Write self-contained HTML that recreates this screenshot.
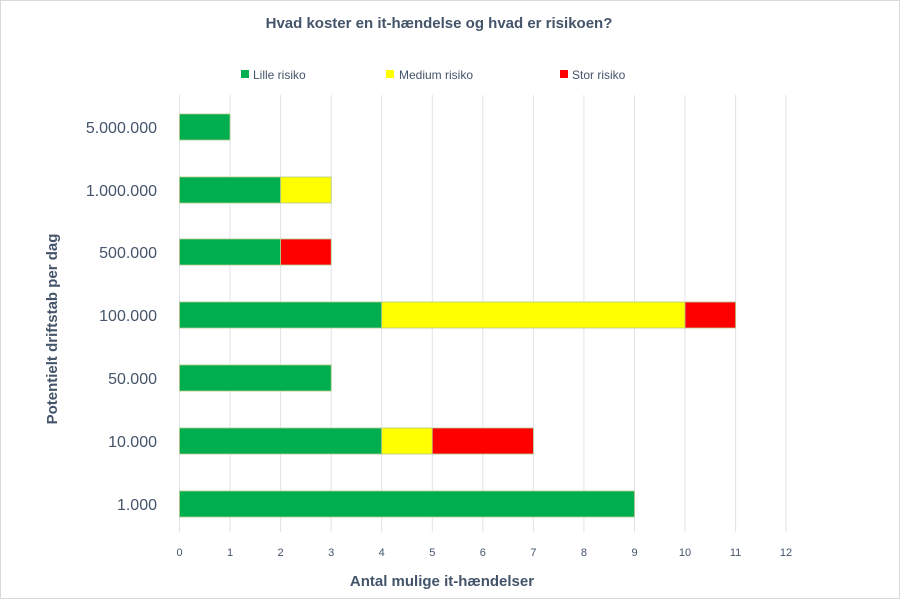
<!DOCTYPE html>
<html><head><meta charset="utf-8"><style>
html,body{margin:0;padding:0;background:#fff;width:900px;height:600px;overflow:hidden}
svg{display:block;font-family:"Liberation Sans",sans-serif}
</style></head><body>
<svg width="900" height="600" viewBox="0 0 900 600">
<rect x="0.5" y="0.5" width="899" height="598" fill="#fff" stroke="#d9d9d9"/>
<text x="439" y="28" text-anchor="middle" font-size="15" font-weight="bold" fill="#44546a">Hvad koster en it-hændelse og hvad er risikoen?</text>
<rect x="241" y="70" width="8" height="8" fill="#00ad4f"/><text x="253" y="79" font-size="12" fill="#44546a">Lille risiko</text>
<rect x="386" y="70" width="8" height="8" fill="#ffff00"/><text x="399" y="79" font-size="12" fill="#44546a">Medium risiko</text>
<rect x="560" y="70" width="8" height="8" fill="#ff0000"/><text x="572" y="79" font-size="12" fill="#44546a">Stor risiko</text>
<g stroke="#dfe3ea" stroke-width="1">
<line x1="179.5" y1="95" x2="179.5" y2="532"/><line x1="230" y1="95" x2="230" y2="532"/><line x1="280.6" y1="95" x2="280.6" y2="532"/><line x1="331.2" y1="95" x2="331.2" y2="532"/><line x1="381.7" y1="95" x2="381.7" y2="532"/><line x1="432.3" y1="95" x2="432.3" y2="532"/><line x1="482.8" y1="95" x2="482.8" y2="532"/><line x1="533.4" y1="95" x2="533.4" y2="532"/><line x1="583.9" y1="95" x2="583.9" y2="532"/><line x1="634.5" y1="95" x2="634.5" y2="532"/><line x1="685" y1="95" x2="685" y2="532"/><line x1="735.6" y1="95" x2="735.6" y2="532"/><line x1="786" y1="95" x2="786" y2="532"/>
</g>
<g stroke="#b5c98a" stroke-width="0.8">
<rect x="179.5" y="114" width="50.5" height="26" fill="#00ad4f"/>
<rect x="179.5" y="177" width="101.1" height="26" fill="#00ad4f"/><rect x="280.6" y="177" width="50.6" height="26" fill="#ffff00"/>
<rect x="179.5" y="239" width="101.1" height="26" fill="#00ad4f"/><rect x="280.6" y="239" width="50.6" height="26" fill="#ff0000"/>
<rect x="179.5" y="302" width="202.2" height="26" fill="#00ad4f"/><rect x="381.7" y="302" width="303.3" height="26" fill="#ffff00"/><rect x="685" y="302" width="50.6" height="26" fill="#ff0000"/>
<rect x="179.5" y="365" width="151.7" height="26" fill="#00ad4f"/>
<rect x="179.5" y="428" width="202.2" height="26" fill="#00ad4f"/><rect x="381.7" y="428" width="50.6" height="26" fill="#ffff00"/><rect x="432.3" y="428" width="101.1" height="26" fill="#ff0000"/>
<rect x="179.5" y="491" width="455" height="26" fill="#00ad4f"/>
</g>
<g font-size="16" fill="#44546a" text-anchor="end">
<text x="157" y="133">5.000.000</text><text x="157" y="196">1.000.000</text><text x="157" y="258">500.000</text><text x="157" y="321">100.000</text><text x="157" y="384">50.000</text><text x="157" y="447">10.000</text><text x="157" y="510">1.000</text>
</g>
<g font-size="11" fill="#44546a" text-anchor="middle">
<text x="179.5" y="556">0</text><text x="230" y="556">1</text><text x="280.6" y="556">2</text><text x="331.2" y="556">3</text><text x="381.7" y="556">4</text><text x="432.3" y="556">5</text><text x="482.8" y="556">6</text><text x="533.4" y="556">7</text><text x="583.9" y="556">8</text><text x="634.5" y="556">9</text><text x="685" y="556">10</text><text x="735.6" y="556">11</text><text x="786" y="556">12</text>
</g>
<text x="442" y="586" text-anchor="middle" font-size="15" font-weight="bold" fill="#44546a">Antal mulige it-hændelser</text>
<text transform="translate(57,329) rotate(-90)" text-anchor="middle" font-size="15" font-weight="bold" fill="#44546a">Potentielt driftstab per dag</text>
</svg>
</body></html>
